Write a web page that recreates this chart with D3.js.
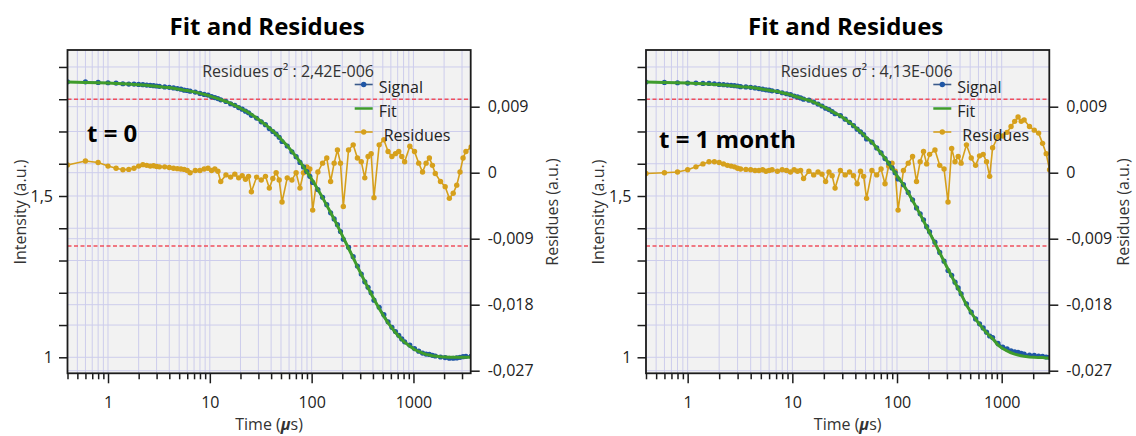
<!DOCTYPE html>
<html><head><meta charset="utf-8">
<script src="https://cdn.jsdelivr.net/npm/d3@7"></script>
<style>body{margin:0;background:#fff}svg{display:block}text{font-family:"Open Sans",sans-serif}</style>
</head><body><svg id="c" width="1136" height="436"></svg>
<script>
// ---- data ----
const times = [0.4,0.6,0.8,1.0,1.2,1.4,1.6,1.8,2.0,2.2,2.4,2.6,2.8,3.0,3.2,
 3.6,4.0,4.4,4.8,5.2,5.6,6.0,6.4,
 7.2,8.0,8.8,9.6,10.4,11.2,12.0,12.8,
 14.4,16,17.6,19.2,20.8,22.4,24,25.6,
 28.8,32,35.2,38.4,41.6,44.8,48,51.2,
 57.6,64,70.4,76.8,83.2,89.6,96,102.4,
 115.2,128,140.8,153.6,166.4,179.2,192,204.8,
 230.4,256,281.6,307.2,332.8,358.4,384,409.6,
 460.8,512,563.2,614.4,665.6,716.8,768,819.2,
 921.6,1024,1126.4,1228.8,1331.2,1433.6,1536,1638.4,
 1843.2,2048,2252.8,2457.6,2662.4,2867.2,3072,3276.8,3686.4];

const leftFit = [1.853,1.852,1.851,1.850,1.849,1.848,1.847,1.846,1.845,1.844,1.843,1.842,1.841,1.840,1.839,
 1.837,1.836,1.834,1.832,1.830,1.828,1.827,1.825,
 1.822,1.818,1.815,1.812,1.808,1.805,1.802,1.799,
 1.793,1.787,1.781,1.775,1.769,1.764,1.758,1.753,
 1.742,1.731,1.721,1.711,1.701,1.692,1.683,1.673,
 1.656,1.638,1.622,1.606,1.590,1.575,1.561,1.547,
 1.520,1.495,1.471,1.449,1.428,1.408,1.389,1.371,
 1.338,1.308,1.281,1.257,1.235,1.215,1.197,1.180,
 1.151,1.127,1.107,1.091,1.077,1.065,1.055,1.047,
 1.034,1.024,1.018,1.013,1.009,1.007,1.005,1.004,
 1.002,1.001,1.000,1.000,1.000,1.000,1.000,1.000,1.000];

const leftSignal = [1.854,1.854,1.852,1.851,1.850,1.848,1.847,1.847,1.846,1.845,1.844,1.843,1.842,1.841,1.840,
 1.838,1.837,1.835,1.833,1.831,1.828,1.827,1.825,
 1.822,1.818,1.815,1.813,1.808,1.805,1.802,1.798,
 1.793,1.786,1.781,1.774,1.769,1.763,1.758,1.750,
 1.741,1.730,1.721,1.709,1.700,1.692,1.682,1.669,
 1.655,1.637,1.622,1.604,1.590,1.576,1.561,1.542,
 1.520,1.496,1.473,1.448,1.429,1.411,1.390,1.366,
 1.341,1.312,1.283,1.258,1.234,1.217,1.200,1.177,
 1.155,1.132,1.110,1.093,1.080,1.068,1.057,1.048,
 1.038,1.027,1.019,1.013,1.010,1.009,1.006,1.004,
 1.001,0.999,0.997,0.997,0.998,1.000,1.002,1.003,1.004];

const leftResid = [0.00105,0.0016,0.0014,0.0009,0.0006,0.0004,0.00045,0.0006,0.0009,0.0011,0.001,0.0009,0.00095,0.00085,0.0008,
 0.0008,0.0007,0.0006,0.00055,0.0005,0.00045,0.0003,0.0,
 0.0003,0.0003,0.0005,0.0006,0.0003,0.0005,0.0002,-0.0012,
 -0.0003,-0.0006,-0.0002,-0.0007,-0.0004,-0.0009,-0.0005,-0.0026,
 -0.0006,-0.001,-0.0005,-0.0021,-0.0008,0.0,-0.001,-0.004,
 -0.0007,-0.001,0.0,-0.0021,0.0,0.0008,0.0005,-0.0051,
 0.0001,0.0013,0.002,-0.0012,0.0013,0.0031,0.0013,-0.0046,
 0.0031,0.0038,0.002,0.0015,-0.0007,0.0022,0.0026,-0.0034,
 0.0038,0.0045,0.0029,0.0022,0.0026,0.0029,0.0022,0.0015,
 0.0036,0.0029,0.0013,0.0001,0.0013,0.002,0.001,-0.0001,
 -0.0012,-0.0019,-0.0035,-0.0028,-0.0017,0.0001,0.002,0.0029,0.0035];

const rightFit = [1.853,1.852,1.851,1.850,1.849,1.848,1.847,1.846,1.845,1.844,1.843,1.842,1.841,1.840,1.839,
 1.838,1.837,1.835,1.833,1.831,1.829,1.828,1.826,
 1.824,1.820,1.817,1.814,1.810,1.807,1.804,1.801,
 1.797,1.791,1.785,1.779,1.773,1.768,1.762,1.757,
 1.749,1.738,1.728,1.718,1.708,1.699,1.690,1.680,
 1.667,1.649,1.633,1.617,1.601,1.586,1.572,1.558,
 1.535,1.510,1.486,1.464,1.443,1.423,1.404,1.386,
 1.354,1.324,1.297,1.273,1.251,1.231,1.213,1.196,
 1.162,1.138,1.118,1.102,1.088,1.076,1.066,1.058,
 1.038,1.027,1.020,1.014,1.010,1.007,1.005,1.003,
 1.001,1.000,0.999,0.999,0.998,0.998,0.998,0.998,0.998];

const rightSignal = [1.853,1.852,1.851,1.850,1.850,1.849,1.849,1.848,1.846,1.845,1.844,1.843,1.842,1.841,1.839,
 1.838,1.837,1.835,1.833,1.831,1.829,1.828,1.826,
 1.824,1.820,1.817,1.814,1.810,1.807,1.804,1.800,
 1.797,1.791,1.785,1.779,1.772,1.768,1.762,1.755,
 1.749,1.738,1.728,1.718,1.707,1.699,1.690,1.677,
 1.667,1.649,1.634,1.616,1.602,1.587,1.572,1.553,
 1.535,1.511,1.488,1.463,1.445,1.426,1.405,1.389,
 1.357,1.325,1.298,1.269,1.254,1.233,1.215,1.197,
 1.166,1.140,1.119,1.104,1.091,1.078,1.066,1.061,
 1.043,1.032,1.026,1.020,1.017,1.015,1.012,1.010,
 1.007,1.006,1.004,1.003,1.001,1.000,1.000,1.000,1.000];

const rightResid = [-0.0001,0.0,0.0001,0.0004,0.0008,0.0012,0.0015,0.0015,0.0014,0.0012,0.001,0.0009,0.0008,0.0006,0.0005,
 0.00045,0.0004,0.0003,0.0003,0.0004,0.0002,0.0003,0.0004,
 0.0002,0.0004,0.0003,0.0001,0.0004,0.0002,0.0003,-0.0008,
 0.0002,-0.0003,0.0001,-0.0002,-0.0012,0.0001,-0.0004,-0.0021,
 0.0003,-0.0003,0.0001,-0.0004,-0.0015,0.0002,-0.0005,-0.0035,
 0.0003,-0.0003,0.0005,-0.0015,0.0009,0.0013,0.0002,-0.0051,
 0.0003,0.0013,0.0022,-0.0012,0.0015,0.0029,0.0012,0.0025,
 0.0031,0.001,0.0005,-0.004,0.0033,0.0015,0.0022,0.0013,
 0.0038,0.002,0.001,0.0023,0.0025,0.0015,-0.0005,0.0034,
 0.0049,0.005,0.0055,0.0063,0.007,0.0076,0.007,0.0072,
 0.0063,0.0058,0.0054,0.004,0.0026,0.0004,-0.001,-0.002,-0.003];

const xMajorTicks = [1, 10, 100, 1000];
const xMajorLabels = ["1", "10", "100", "1000"];
const intensityTicks = [1.0, 1.1, 1.2, 1.3, 1.4, 1.5, 1.6, 1.7, 1.8, 1.9];
const intensityLabels = {"1.0": "1", "1.5": "1,5"};
const residueTicks = [0.009, 0, -0.009, -0.018, -0.027];
const residueLabels = ["0,009", "0", "-0,009", "-0,018", "-0,027"];
const residueLimits = [0.01, -0.01];
const legendNames = ["Signal", "Fit", "Residues"];
const sigmaTexts = ["2,42E-006", "4,13E-006"];
const panelLabels = ["t = 0", "t = 1 month"];
const xMax = [3650, 2850];

// ---- drawing ----
const svg = d3.select("#c");
const C = {signal: "#1f56a6", fit: "#3f9c2c", resid: "#d6a01c", red: "#f0505e",
  grid: "#cdcdec", bg: "#f2f2f2", frame: "#1c1c1c", text: "#222"};
const TOP = 50, BOTTOM = 373.3;

function panel(p) {
  const g = svg.append("g");
  const x = d3.scaleLog().domain([0.4, p.xmax]).range([p.x0, p.x1]);
  const yI = d3.scaleLinear().domain([1, 1.5]).range([357.3, 196]);
  const yR = d3.scaleLinear().domain([0, 0.009]).range([172.7, 106.7]);
  const clip = "clip" + p.id;
  svg.append("clipPath").attr("id", clip).append("rect")
    .attr("x", p.x0).attr("y", TOP).attr("width", p.x1 - p.x0).attr("height", BOTTOM - TOP);

  g.append("rect").attr("x", p.x0).attr("y", TOP).attr("width", p.x1 - p.x0)
    .attr("height", BOTTOM - TOP).attr("fill", C.bg);

  const allX = x.ticks().filter(v => v >= 0.4 && v <= p.xmax);
  const grid = g.append("g").attr("stroke", C.grid).attr("stroke-width", 1);
  allX.forEach(v => grid.append("line").attr("x1", x(v)).attr("x2", x(v)).attr("y1", TOP).attr("y2", BOTTOM));
  intensityTicks.forEach(v => grid.append("line").attr("x1", p.x0).attr("x2", p.x1).attr("y1", yI(v)).attr("y2", yI(v)));
  residueTicks.forEach(v => grid.append("line").attr("x1", p.x0).attr("x2", p.x1).attr("y1", yR(v)).attr("y2", yR(v)));

  residueLimits.forEach(v => g.append("line").attr("x1", p.x0).attr("x2", p.x1)
    .attr("y1", yR(v)).attr("y2", yR(v)).attr("stroke", C.red).attr("stroke-width", 1.5)
    .attr("stroke-dasharray", "4,2.5"));

  const data = times.map((t, i) => ({t, s: p.signal[i], f: p.fit[i], r: p.resid[i]}));
  const inner = g.append("g").attr("clip-path", `url(#${clip})`);

  inner.append("path").datum(data).attr("fill", "none").attr("stroke", C.resid).attr("stroke-width", 1.6)
    .attr("d", d3.line().x(d => x(d.t)).y(d => yR(d.r)));
  inner.selectAll(".rd").data(data).join("circle").attr("cx", d => x(d.t)).attr("cy", d => yR(d.r))
    .attr("r", 2.7).attr("fill", C.resid);

  inner.append("path").datum(data).attr("fill", "none").attr("stroke", C.signal).attr("stroke-width", 1.5)
    .attr("d", d3.line().x(d => x(d.t)).y(d => yI(d.s)));
  inner.selectAll(".sd").data(data).join("circle").attr("cx", d => x(d.t)).attr("cy", d => yI(d.s))
    .attr("r", 2.6).attr("fill", C.signal);
  inner.append("path").datum(data).attr("fill", "none").attr("stroke", C.fit).attr("stroke-width", 3)
    .attr("d", d3.line().x(d => x(d.t)).y(d => yI(d.f)));

  // legend
  const lx = p.x1 - 116;
  const rows = [84.5, 108.5, 132];
  const cols = [C.signal, C.fit, C.resid];
  legendNames.forEach((n, i) => {
    g.append("line").attr("x1", lx).attr("x2", lx + 18).attr("y1", rows[i]).attr("y2", rows[i])
      .attr("stroke", i === 0 ? "#3a5a8a" : cols[i]).attr("stroke-width", i === 1 ? 2.5 : 1.6);
    if (i !== 1) g.append("circle").attr("cx", lx + 9).attr("cy", rows[i]).attr("r", 2.7).attr("fill", cols[i]);
    g.append("text").attr("x", lx + (i === 2 ? 29 : 24)).attr("y", rows[i] + 8.5)
      .attr("font-size", 16).attr("fill", C.text).text(n);
  });

  g.append("text").attr("x", (p.x0 + p.x1) / 2 + 19).attr("y", 77).attr("text-anchor", "middle")
    .attr("font-size", 16).attr("fill", "#333").text("Residues σ² : " + p.sigma);

  g.append("text").attr("x", p.labelX).attr("y", p.labelY).attr("font-size", 24).attr("font-weight", "bold")
    .attr("fill", "#000").text(p.label);

  // frame
  g.append("rect").attr("x", p.x0).attr("y", TOP).attr("width", p.x1 - p.x0).attr("height", BOTTOM - TOP)
    .attr("fill", "none").attr("stroke", C.frame).attr("stroke-width", 1.8);

  // axes
  const minorX = allX.filter(v => !xMajorTicks.includes(v));
  const ax1 = g.append("g").attr("transform", `translate(0,${BOTTOM})`)
    .call(d3.axisBottom(x).tickValues(minorX).tickSize(6).tickFormat(""));
  const ax2 = g.append("g").attr("transform", `translate(0,${BOTTOM})`)
    .call(d3.axisBottom(x).tickValues(xMajorTicks).tickSize(10).tickPadding(13)
      .tickFormat((d, i) => xMajorLabels[i]));
  const axL = g.append("g").attr("transform", `translate(${p.x0},0)`)
    .call(d3.axisLeft(yI).tickValues(intensityTicks).tickSize(8.5).tickPadding(6)
      .tickFormat(d => intensityLabels[d.toFixed(1)] || ""));
  const axR = g.append("g").attr("transform", `translate(${p.x1},0)`)
    .call(d3.axisRight(yR).tickValues(residueTicks).tickSize(9).tickPadding(8)
      .tickFormat((d, i) => residueLabels[i]));
  [ax1, ax2, axL, axR].forEach(a => {
    a.select(".domain").remove();
    a.selectAll("line").attr("stroke", C.frame).attr("stroke-width", 1.5);
    a.selectAll("text").attr("font-size", 16).attr("fill", C.text).attr("font-family", '"Open Sans",sans-serif');
  });

  // titles
  g.append("text").attr("x", (p.x0 + p.x1) / 2 - 2).attr("y", 34.5).attr("text-anchor", "middle")
    .attr("font-size", 24).attr("font-weight", "bold").attr("fill", "#000").text("Fit and Residues");
  const tl = g.append("text").attr("x", (p.x0 + p.x1) / 2).attr("y", 430).attr("text-anchor", "middle")
    .attr("font-size", 16).attr("fill", "#333");
  tl.append("tspan").text("Time (");
  tl.append("tspan").attr("font-style", "italic").attr("font-weight", "bold").text("μ");
  tl.append("tspan").text("s)");
  g.append("text").attr("transform", `translate(${p.x0 - 42},212) rotate(-90)`).attr("text-anchor", "middle")
    .attr("font-size", 16).attr("fill", "#333").text("Intensity (a.u.)");
  g.append("text").attr("transform", `translate(${p.x1 + p.rlab},212) rotate(-90)`).attr("text-anchor", "middle")
    .attr("font-size", 16).attr("fill", "#333").text("Residues (a.u.)");
}

panel({id: 0, x0: 67.5, x1: 470.7, xmax: xMax[0], fit: leftFit, signal: leftSignal, resid: leftResid,
  sigma: sigmaTexts[0], label: panelLabels[0], labelX: 87, labelY: 141.5, rlab: 87});
panel({id: 1, x0: 646, x1: 1049.3, xmax: xMax[1], fit: rightFit, signal: rightSignal, resid: rightResid,
  sigma: sigmaTexts[1], label: panelLabels[1], labelX: 659, labelY: 148, rlab: 80});
</script></body></html>
